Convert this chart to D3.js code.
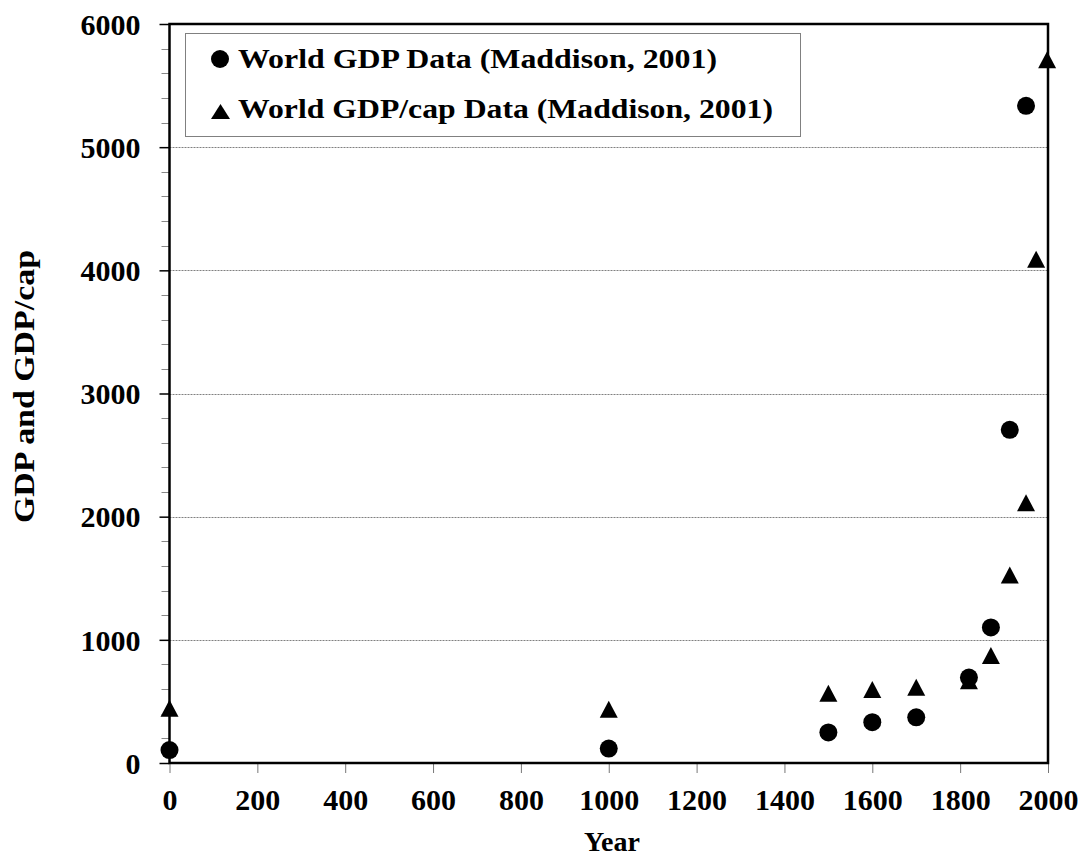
<!DOCTYPE html>
<html><head><meta charset="utf-8">
<script src="https://cdn.jsdelivr.net/npm/d3@7"></script>
<style>
html,body{margin:0;padding:0;background:#fff;}
svg{display:block;}
text{font-family:"Liberation Serif","Times New Roman",serif;font-weight:bold;fill:#000;}
</style></head>
<body>
<script>
// ---- data ----
const gdpYears = [0, 1000, 1500, 1600, 1700, 1820, 1870, 1913, 1950];
const gdpValues = [105, 117, 248, 331, 371, 694, 1101, 2705, 5336];
const capYears = [0, 1000, 1500, 1600, 1700, 1820, 1870, 1913, 1950, 1973, 1998];
const capValues = [445, 436, 566, 596, 616, 667, 873, 1526, 2113, 4091, 5709];
const xTicks = [0, 200, 400, 600, 800, 1000, 1200, 1400, 1600, 1800, 2000];
const yTicks = [0, 1000, 2000, 3000, 4000, 5000, 6000];
const yMinorTicks = d3.range(0, 6001, 200);
const seriesNames = ["World GDP Data (Maddison, 2001)", "World GDP/cap Data (Maddison, 2001)"];
const xTitle = "Year";
const yTitle = "GDP and GDP/cap";

const W = 1083, H = 859;
const svg = d3.select("body").append("svg").attr("width", W).attr("height", H);

const x = d3.scaleLinear().domain([0, 2000]).range([169.5, 1048]);
const y = d3.scaleLinear().domain([0, 6000]).range([763, 24]);

// gridlines
svg.append("g").selectAll("line").data(yTicks.filter(d => d > 0 && d < 6000)).join("line")
  .attr("x1", x(0)).attr("x2", x(2000))
  .attr("y1", d => Math.round(y(d)) + 0.5).attr("y2", d => Math.round(y(d)) + 0.5)
  .attr("stroke", "#808080").attr("stroke-width", 1).attr("stroke-dasharray", "2,1");

// minor y ticks
svg.append("g").selectAll("line").data(yMinorTicks.filter(d => d % 1000 !== 0)).join("line")
  .attr("x1", x(0) - 8).attr("x2", x(0))
  .attr("y1", d => Math.round(y(d)) + 0.5).attr("y2", d => Math.round(y(d)) + 0.5)
  .attr("stroke", "#888").attr("stroke-width", 1);

// y axis
const yAxis = d3.axisLeft(y).tickValues(yTicks).tickSize(10).tickPadding(19).tickFormat(d3.format("d"));
const gy = svg.append("g").attr("transform", `translate(${x(0)},0)`).call(yAxis);
gy.select(".domain").remove();
gy.selectAll(".tick line").attr("stroke", "#000").attr("stroke-width", 1.5);
gy.selectAll(".tick text").attr("font-size", 30).attr("font-family", null).attr("dy", "0.34em");

// x axis
const xAxis = d3.axisBottom(x).tickValues(xTicks).tickSize(10).tickPadding(16).tickFormat(d3.format("d"));
const gx = svg.append("g").attr("transform", `translate(0,${y(0)})`).call(xAxis);
gx.select(".domain").remove();
gx.selectAll(".tick line").attr("stroke", "#777").attr("stroke-width", 1);
gx.selectAll(".tick text").attr("font-size", 30).attr("font-family", null).attr("dy", "0.71em");

// frame
svg.append("rect").attr("x", x(0)).attr("y", y(6000)).attr("width", x(2000) - x(0)).attr("height", y(0) - y(6000))
  .attr("fill", "none").attr("stroke", "#000").attr("stroke-width", 2.5);

// titles
svg.append("text").attr("x", 612).attr("y", 851).attr("text-anchor", "middle")
  .attr("font-size", 28).text(xTitle);
svg.append("text").attr("transform", `translate(33.5,386.5) rotate(-90)`)
  .attr("text-anchor", "middle").attr("font-size", 30)
  .attr("textLength", 273).attr("lengthAdjust", "spacingAndGlyphs").text(yTitle);

// markers
const tri = (w, h) => `M0,${-h / 2}L${w / 2},${h / 2}L${-w / 2},${h / 2}Z`;
const capData = capYears.map((yr, i) => ({ yr, v: capValues[i] }));
const gdpData = gdpYears.map((yr, i) => ({ yr, v: gdpValues[i] }));

svg.append("g").selectAll("path").data(capData).join("path")
  .attr("d", tri(18, 17))
  .attr("transform", d => `translate(${x(d.yr)},${y(d.v)})`)
  .attr("fill", "#000");
svg.append("g").selectAll("circle").data(gdpData).join("circle")
  .attr("cx", d => x(d.yr)).attr("cy", d => y(d.v)).attr("r", 9)
  .attr("fill", "#000");

// legend
const lg = svg.append("g");
lg.append("rect").attr("x", 185.5).attr("y", 33.5).attr("width", 615).attr("height", 103)
  .attr("fill", "#fff").attr("stroke", "#808080").attr("stroke-width", 1);
const rows = [
  { name: seriesNames[0], cy: 59, base: 68, len: 479, shape: "c" },
  { name: seriesNames[1], cy: 111.5, base: 118, len: 535, shape: "t" }
];
rows.forEach(r => {
  if (r.shape === "c") lg.append("circle").attr("cx", 220).attr("cy", r.cy).attr("r", 9).attr("fill", "#000");
  else lg.append("path").attr("d", tri(19, 15)).attr("transform", `translate(220.5,${r.cy})`).attr("fill", "#000");
  lg.append("text").attr("x", 238).attr("y", r.base).attr("font-size", 27)
    .attr("textLength", r.len).attr("lengthAdjust", "spacingAndGlyphs").text(r.name);
});
</script>
</body></html>
